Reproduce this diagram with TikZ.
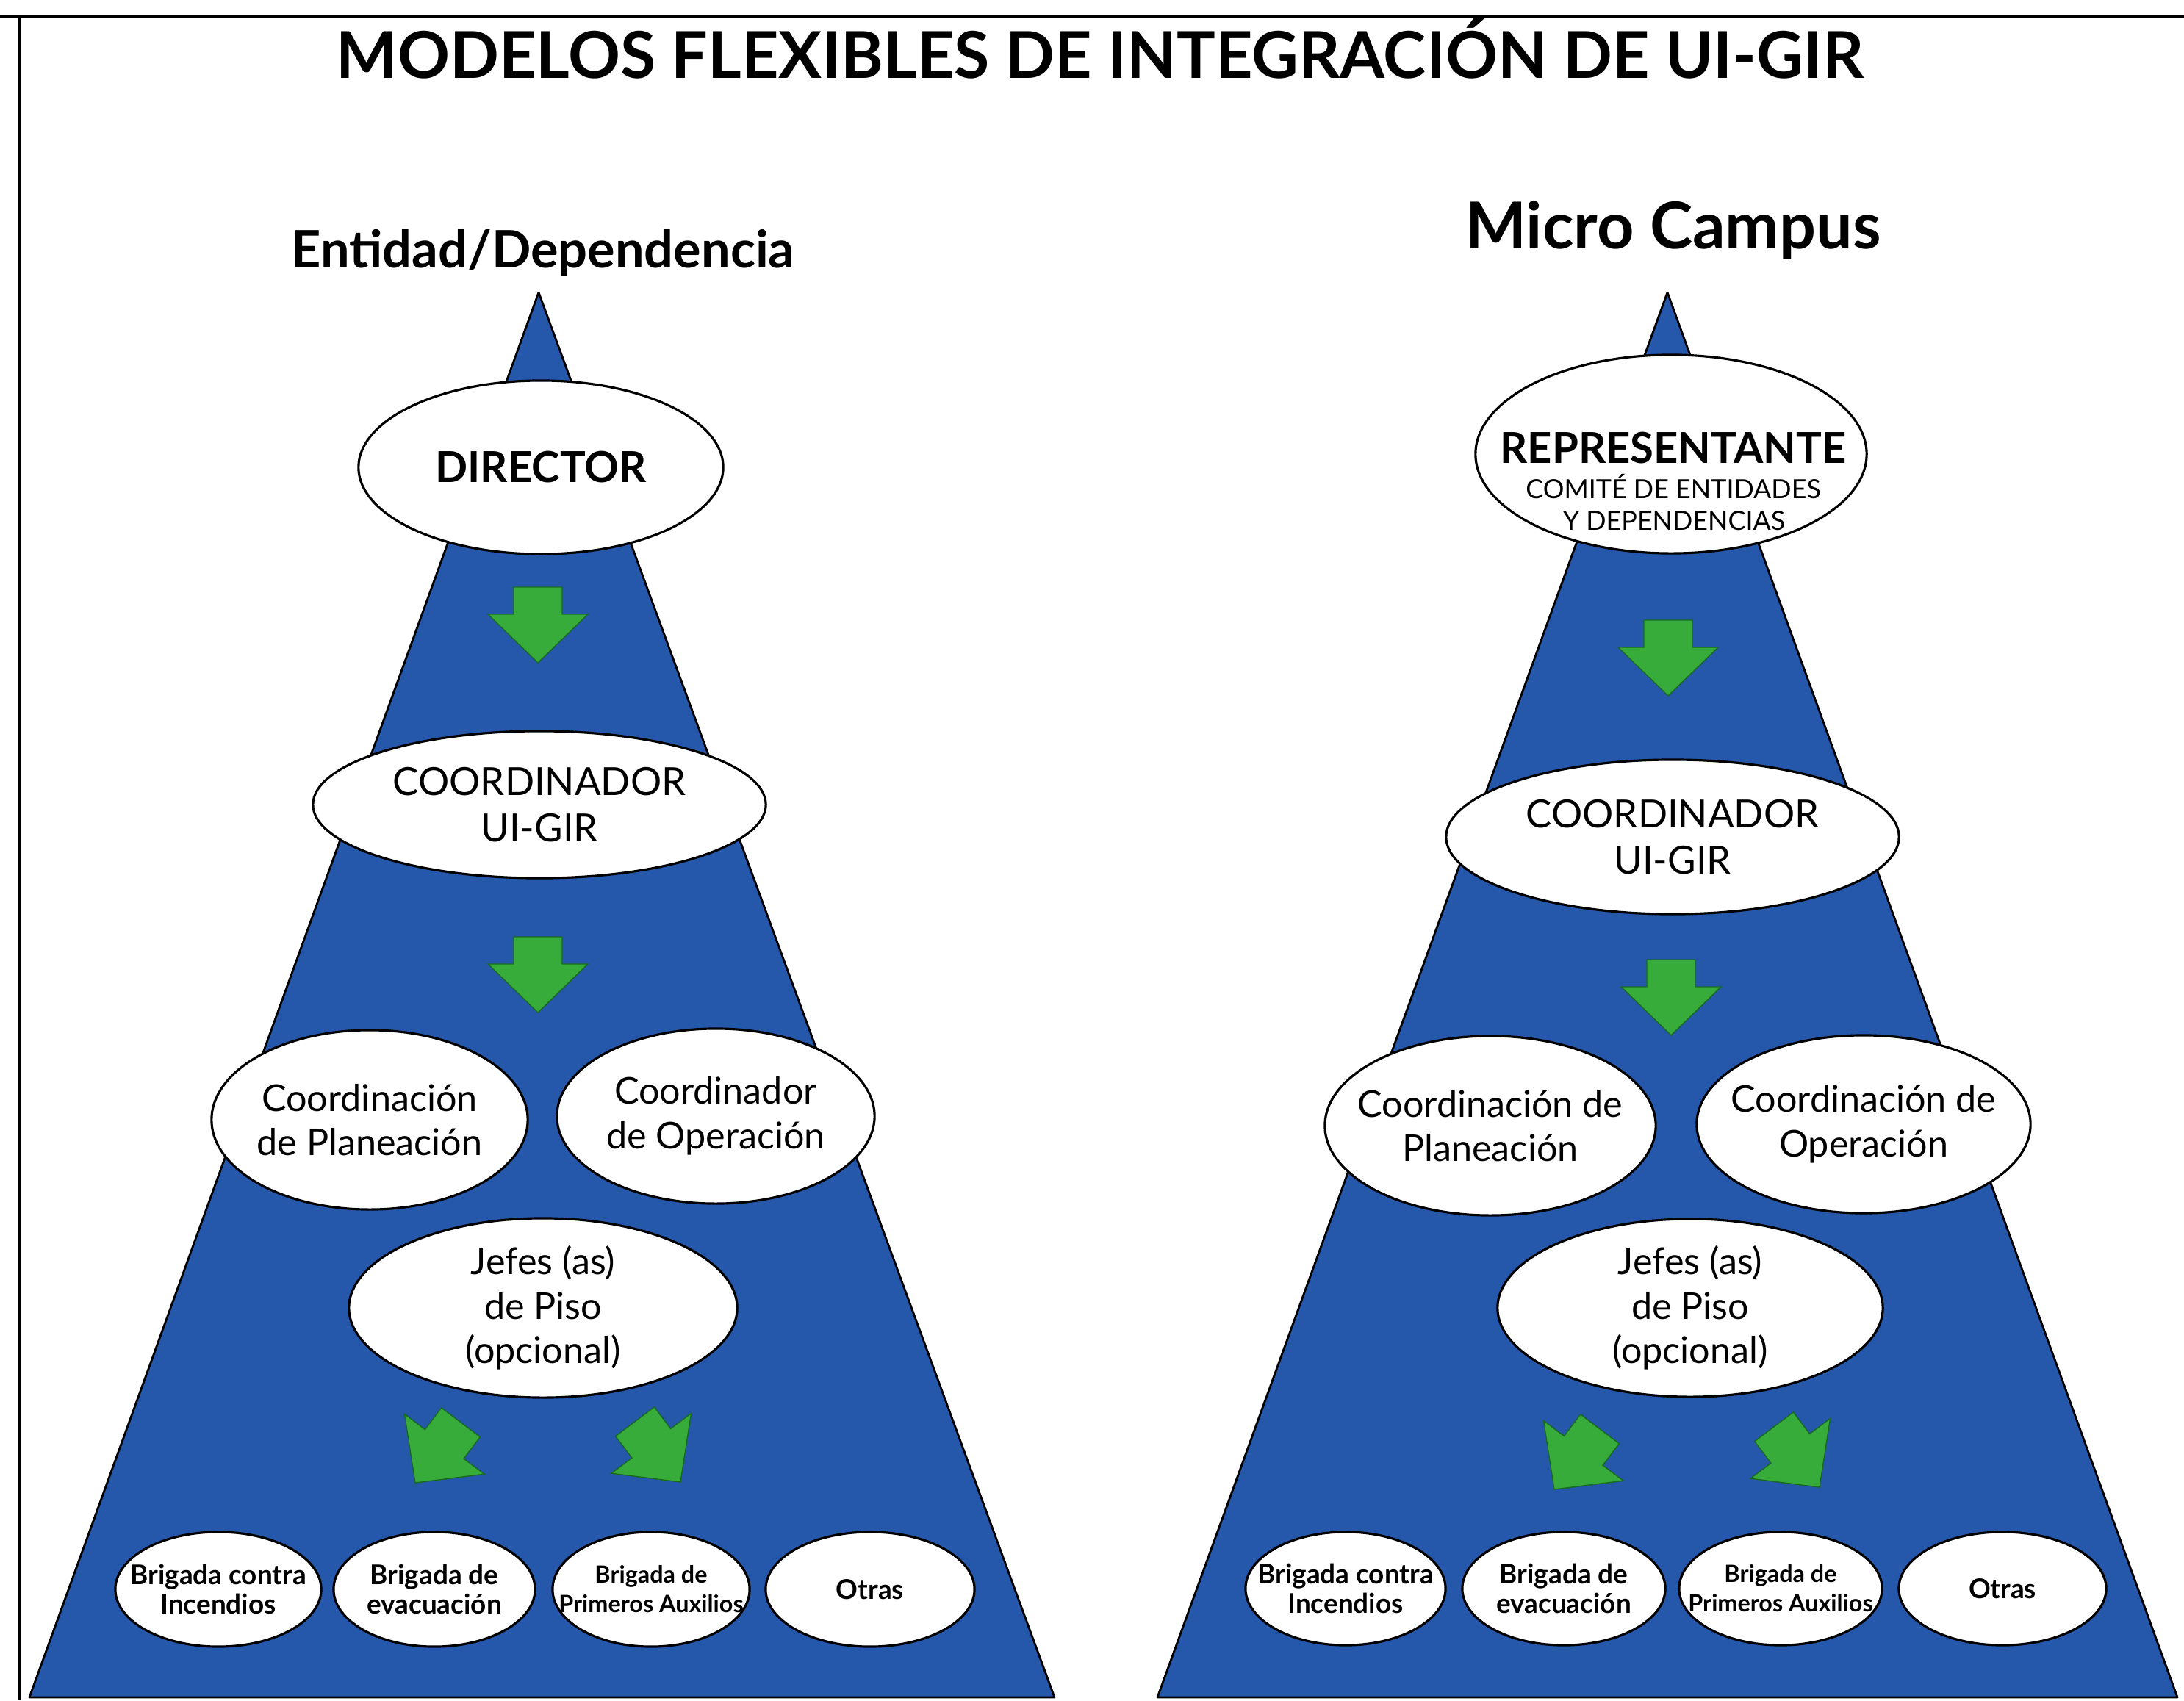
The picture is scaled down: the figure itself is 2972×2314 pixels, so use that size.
\documentclass[tikz,border=0pt]{standalone}
\usepackage{fontspec}
\setmainfont{Lato}
\usetikzlibrary{shapes.geometric}
\definecolor{pyrblue}{RGB}{37,87,170}
\definecolor{arrgreen}{RGB}{55,172,58}
\definecolor{arrdark}{RGB}{25,105,35}
\newcommand{\greenarrow}[3]{%
  \draw[garrow, shift={(#1,#2)}, rotate=#3]
    (0,0) -- (68,-66) -- (33,-66) -- (33,-103) -- (-33,-103) -- (-33,-66) -- (-68,-66) -- cycle;}
\begin{document}
\begin{tikzpicture}[x=0.01cm,y=-0.01cm,
  pyr/.style={fill=pyrblue, draw=black, line width=0.8pt, line join=round},
  bub/.style={ellipse, draw=black, fill=white, line width=0.9pt, inner sep=0pt},
  txt/.style={align=center, inner sep=0pt},
  hdr/.style={txt, font=\fontsize{20}{24}\selectfont\bfseries},
  bigb/.style={txt, font=\fontsize{16.5}{20}\selectfont\bfseries},
  mid/.style={txt, font=\fontsize{14.3}{17.2}\selectfont},
  midc/.style={txt, font=\fontsize{15}{17.9}\selectfont},
  small/.style={txt, font=\fontsize{10.5}{11.4}\selectfont\bfseries},
  tiny/.style={txt, font=\fontsize{9.2}{11.4}\selectfont\bfseries},
  garrow/.style={fill=arrgreen, draw=arrdark, line width=0.4pt, line join=miter}]

\useasboundingbox (0,0) rectangle (2972,2314);
\fill[white] (0,0) rectangle (2972,2314);
\draw[line width=1.4pt] (0,22) -- (2972,22);
\draw[line width=0.9pt] (26,22) -- (26,2314);

\node[txt, font=\fontsize{25}{30}\selectfont\bfseries, anchor=base] (title) at (1497,106) {MODELOS FLEXIBLES DE INTEGRACIÓN DE UI-GIR};
\node[hdr, anchor=base] (hL) at (739,364) {Entidad/Dependencia};
\node[txt, font=\fontsize{25}{30}\selectfont\bfseries, anchor=base] (hR) at (2277,338) {Micro Campus};

% pyramids
\path[pyr] (733,398) -- (1435,2310) -- (40,2310) -- cycle;
\path[pyr] (2269,398) -- (2963,2310) -- (1575,2310) -- cycle;

% ---------- left model ----------
\node[bub, minimum width=4.96cm, minimum height=2.36cm] (dirL) at (736,636) {};
\node[bigb] (dirLt) at (dirL) {DIRECTOR};
\node[bub, minimum width=6.16cm, minimum height=2.0cm] (cooL) at (734,1095) {};
\node[midc] (cooLt) at (cooL) {COORDINADOR\\UI-GIR};
\node[bub, minimum width=4.30cm, minimum height=2.44cm] (plaL) at (503,1524) {};
\node[mid] (plaLt) at (plaL) {Coordinación\\de Planeación};
\node[bub, minimum width=4.32cm, minimum height=2.38cm] (opeL) at (974,1519) {};
\node[mid] (opeLt) at (opeL) {Coordinador\\de Operación};
\node[bub, minimum width=5.28cm, minimum height=2.44cm] (jefL) at (739,1780) {};
\node[mid] (jefLt) at (jefL) {Jefes (as)\\de Piso\\(opcional)};
\node[bub, minimum width=2.80cm, minimum height=1.56cm] (b1L) at (297,2163) {};
\node[small] (b1Lt) at (b1L) {Brigada contra\\Incendios};
\node[bub, minimum width=2.74cm, minimum height=1.56cm] (b2L) at (591,2163) {};
\node[small] (b2Lt) at (b2L) {Brigada de\\evacuación};
\node[bub, minimum width=2.68cm, minimum height=1.56cm] (b3L) at (886,2163) {};
\node[tiny] (b3Lt) at (b3L) {Brigada de\\Primeros Auxilios};
\node[bub, minimum width=2.84cm, minimum height=1.56cm] (b4L) at (1184,2163) {};
\node[small] (b4Lt) at (b4L) {Otras};

\greenarrow{732}{902}{0}
\greenarrow{732}{1378}{0}
\greenarrow{565}{2018}{-37}
\greenarrow{926}{2017}{37}

% ---------- right model ----------
\node[bub, minimum width=5.32cm, minimum height=2.70cm] (repR) at (2274,618) {};
\node[bigb, anchor=base] (repRt) at (2277,630) {REPRESENTANTE};
\node[txt, font=\fontsize{10.2}{12}\selectfont, anchor=base] (repRa) at (2277,678) {COMITÉ DE ENTIDADES};
\node[txt, font=\fontsize{10.2}{12}\selectfont, anchor=base] (repRb) at (2278,721) {Y DEPENDENCIAS};
\node[bub, minimum width=6.16cm, minimum height=2.10cm] (cooR) at (2276,1139) {};
\node[midc] (cooRt) at (cooR) {COORDINADOR\\UI-GIR};
\node[bub, minimum width=4.50cm, minimum height=2.44cm] (plaR) at (2028,1532) {};
\node[mid] (plaRt) at (plaR) {Coordinación de\\Planeación};
\node[bub, minimum width=4.54cm, minimum height=2.42cm] (opeR) at (2536,1530) {};
\node[mid] (opeRt) at (opeR) {Coordinación de\\Operación};
\node[bub, minimum width=5.24cm, minimum height=2.42cm] (jefR) at (2300,1780) {};
\node[mid] (jefRt) at (jefR) {Jefes (as)\\de Piso\\(opcional)};
\node[bub, minimum width=2.72cm, minimum height=1.54cm] (b1R) at (1831,2162) {};
\node[small] (b1Rt) at (b1R) {Brigada contra\\Incendios};
\node[bub, minimum width=2.76cm, minimum height=1.54cm] (b2R) at (2128,2162) {};
\node[small] (b2Rt) at (b2R) {Brigada de\\evacuación};
\node[bub, minimum width=2.76cm, minimum height=1.54cm] (b3R) at (2423,2162) {};
\node[tiny] (b3Rt) at (b3R) {Brigada de\\Primeros Auxilios};
\node[bub, minimum width=2.82cm, minimum height=1.54cm] (b4R) at (2725,2162) {};
\node[small] (b4Rt) at (b4R) {Otras};

\greenarrow{2270}{947}{0}
\greenarrow{2274}{1409}{0}
\greenarrow{2115}{2027}{-37}
\greenarrow{2476}{2024}{37}
\end{tikzpicture}
\end{document}
